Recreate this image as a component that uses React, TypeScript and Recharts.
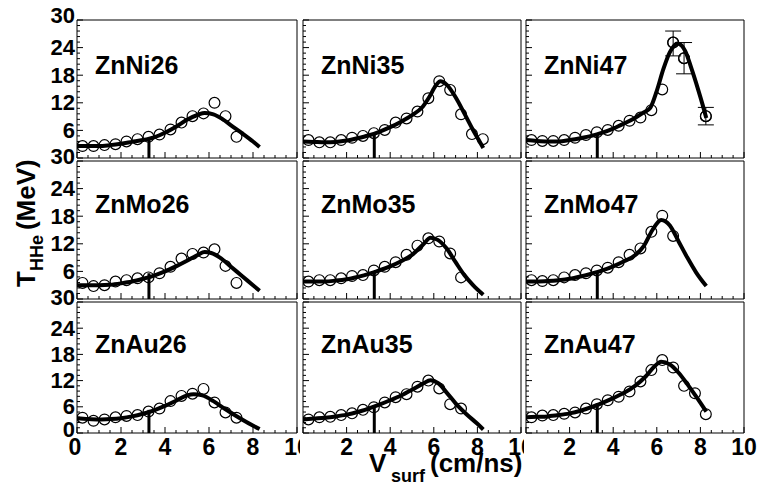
import React from "react";
import {
  ComposedChart,
  Line,
  Scatter,
  XAxis,
  YAxis,
  ReferenceLine,
  ErrorBar,
} from "recharts";

// measured points sit on a regular V_surf grid (cm/ns)
const vSurf = [0.25, 0.75, 1.25, 1.75, 2.25, 2.75, 3.25, 3.75, 4.25, 4.75, 5.25, 5.75, 6.25, 6.75, 7.25, 7.75, 8.25];
const vSurfNi47 = [0.25, 0.75, 1.25, 1.75, 2.25, 2.75, 3.25, 3.75, 4.25, 4.75, 5.25, 5.75, 6.25, 6.75, 7.25, 8.25];

const xTicks = [0, 0.5, 1, 1.5, 2, 2.5, 3, 3.5, 4, 4.5, 5, 5.5, 6, 6.5, 7, 7.5, 8, 8.5, 9, 9.5, 10];
const yTicks = [0, 1.2, 2.4, 3.6, 4.8, 6, 7.2, 8.4, 9.6, 10.8, 12, 13.2, 14.4, 15.6, 16.8, 18, 19.2, 20.4, 21.6, 22.8, 24, 25.2, 26.4, 27.6, 28.8, 30];

const panelNames = ["ZnNi26", "ZnNi35", "ZnNi47", "ZnMo26", "ZnMo35", "ZnMo47", "ZnAu26", "ZnAu35", "ZnAu47"];

// T_HHe points (MeV)
const ni26Pts = [2.6, 2.6, 2.8, 3.0, 3.6, 4.1, 4.6, 5.1, 6.2, 7.7, 9.1, 9.7, 12.0, 9.1, 4.6];
const ni35Pts = [3.9, 3.4, 3.4, 3.9, 4.4, 4.8, 5.4, 6.1, 7.7, 8.6, 10.1, 13.0, 16.7, 14.8, 9.5, 5.2, 4.1];
const ni47Pts = [3.9, 3.7, 3.7, 3.9, 4.4, 5.0, 5.6, 6.1, 7.0, 8.1, 8.8, 10.4, 14.9, 25.1, 21.7, 9.1];
const mo26Pts = [3.5, 2.8, 3.0, 3.8, 4.1, 4.5, 4.7, 5.6, 7.0, 8.8, 9.8, 10.1, 10.8, 7.2, 3.5];
const mo35Pts = [3.8, 4.1, 4.1, 4.5, 5.0, 5.2, 6.2, 7.0, 8.0, 9.6, 11.6, 13.2, 12.5, 9.9, 4.7];
const mo47Pts = [4.1, 3.9, 4.1, 4.7, 5.2, 5.6, 6.2, 6.8, 8.0, 9.6, 11.0, 14.6, 18.1, 13.7];
const au26Pts = [3.5, 2.8, 3.1, 3.6, 3.9, 4.1, 4.9, 5.6, 7.3, 8.5, 9.0, 10.1, 7.0, 4.7, 3.5];
const au35Pts = [3.1, 3.6, 3.7, 4.1, 4.5, 5.3, 5.9, 7.0, 8.2, 8.9, 10.6, 12.0, 10.2, 6.6, 5.6];
const au47Pts = [3.6, 4.0, 4.1, 4.4, 4.7, 5.6, 6.6, 7.5, 8.3, 9.5, 11.8, 14.4, 16.7, 15.0, 10.8, 9.1, 4.3];

// error bars for ZnNi47 (last three points), [down, up]
const ni47ErrX = [6.75, 7.25, 8.25];
const ni47ErrY = [25.1, 21.7, 9.1];
const ni47Err = [[2.9, 2.5], [3.4, 3.4], [1.9, 1.9]];

// fitted curves
const ni26CurveX = [0, 0.5, 1, 1.5, 2, 2.5, 3, 3.5, 4, 4.5, 5, 5.5, 5.8, 6.2, 6.6, 7, 7.5, 8, 8.3];
const ni26CurveY = [2.6, 2.6, 2.6, 2.8, 3.1, 3.5, 3.9, 4.5, 5.5, 6.8, 8.3, 9.4, 9.8, 9.5, 8.5, 7.1, 5.4, 3.6, 2.4];
const ni35CurveX = [0, 0.5, 1, 1.5, 2, 2.5, 3, 3.5, 4, 4.5, 5, 5.5, 5.8, 6.1, 6.3, 6.6, 7, 7.4, 7.8, 8.1, 8.27];
const ni35CurveY = [3.6, 3.5, 3.4, 3.5, 3.8, 4.3, 4.9, 5.7, 6.7, 7.9, 9.3, 11.2, 13.3, 15.8, 16.7, 15.9, 13.2, 9.7, 6.1, 3.6, 2.2];
const ni47CurveX = [0, 0.5, 1, 1.5, 2, 2.5, 3, 3.5, 4, 4.5, 5, 5.4, 5.7, 6, 6.3, 6.6, 6.95, 7.3, 7.6, 7.9, 8.1, 8.27];
const ni47CurveY = [3.9, 3.7, 3.6, 3.6, 3.9, 4.3, 4.8, 5.5, 6.4, 7.5, 8.7, 9.9, 10.9, 14.6, 19.3, 23.0, 24.9, 23.3, 19.3, 14.8, 11.6, 8.7];
const mo26CurveX = [0, 0.5, 1, 1.5, 2, 2.5, 3, 3.5, 4, 4.5, 5, 5.5, 5.8, 6.1, 6.5, 7, 7.5, 8, 8.3];
const mo26CurveY = [3.0, 3.0, 3.0, 3.1, 3.4, 3.8, 4.4, 5.1, 6.0, 7.1, 8.3, 9.6, 10.2, 10.0, 9.0, 7.0, 5.0, 3.0, 1.8];
const mo35CurveX = [0, 0.5, 1, 1.5, 2, 2.5, 3, 3.5, 4, 4.5, 5, 5.5, 5.85, 6.2, 6.6, 7, 7.4, 7.8, 8.27];
const mo35CurveY = [3.8, 3.8, 3.8, 4.0, 4.3, 4.8, 5.4, 6.2, 7.1, 8.2, 9.6, 11.8, 13.3, 12.8, 10.9, 8.0, 5.2, 3.0, 0.9];
const mo47CurveX = [0, 0.5, 1, 1.5, 2, 2.5, 3, 3.5, 4, 4.5, 5, 5.4, 5.8, 6.2, 6.6, 7, 7.4, 7.8, 8.27];
const mo47CurveY = [3.8, 3.8, 3.9, 4.1, 4.4, 4.9, 5.5, 6.2, 7.1, 8.2, 9.5, 11.5, 15.0, 17.2, 16.0, 12.5, 9.0, 5.8, 2.8];
const au26CurveX = [0, 0.5, 1, 1.5, 2, 2.5, 3, 3.5, 4, 4.5, 5, 5.3, 5.7, 6.2, 6.7, 7.2, 7.7, 8.3];
const au26CurveY = [3.4, 3.2, 3.1, 3.2, 3.4, 3.8, 4.4, 5.2, 6.2, 7.4, 8.6, 8.9, 8.6, 7.3, 5.6, 4.0, 2.5, 0.9];
const au35CurveX = [0, 0.5, 1, 1.5, 2, 2.5, 3, 3.5, 4, 4.5, 5, 5.5, 5.85, 6.2, 6.6, 7, 7.5, 8, 8.27];
const au35CurveY = [3.1, 3.3, 3.5, 3.8, 4.2, 4.8, 5.6, 6.5, 7.5, 8.6, 9.9, 11.3, 12.1, 11.4, 9.2, 6.8, 4.3, 2.1, 0.8];
const au47CurveX = [0, 0.5, 1, 1.5, 2, 2.5, 3, 3.5, 4, 4.5, 5, 5.5, 5.9, 6.2, 6.6, 7, 7.4, 7.8, 8.27];
const au47CurveY = [3.6, 3.7, 3.8, 4.1, 4.5, 5.1, 5.9, 6.9, 8.0, 9.2, 10.8, 13.0, 15.3, 16.3, 15.7, 13.8, 11.2, 8.4, 4.9];

// the thick marker at V_surf = 3.27, height up to the curve
const markerX = 3.27;
const markerTops = [4.0, 5.4, 5.0, 5.6, 5.9, 5.9, 5.3, 6.4, 6.8];

// layout in page pixels
const COL_LEFT = [77, 303, 526];
const COL_W = [220, 218, 218];
const COL_PAD_R = [3, 3, 16];
const Y_AXIS_W = [77, 2, 2];
const ROW_TOP = [20, 161, 302];
const ROW_H = [138, 138, 131];
const PAD_T = 20;
const FONT = "'Liberation Sans', Arial, Helvetica, sans-serif";

const zip = (xs: number[], ys: number[]) => ys.map((y, i) => ({ x: xs[i], y }));

const panels = [
  { pts: zip(vSurf, ni26Pts), curve: zip(ni26CurveX, ni26CurveY) },
  { pts: zip(vSurf, ni35Pts), curve: zip(ni35CurveX, ni35CurveY) },
  {
    pts: zip(vSurfNi47, ni47Pts),
    curve: zip(ni47CurveX, ni47CurveY),
    err: ni47ErrY.map((y, i) => ({ x: ni47ErrX[i], y, err: ni47Err[i] })),
  },
  { pts: zip(vSurf, mo26Pts), curve: zip(mo26CurveX, mo26CurveY) },
  { pts: zip(vSurf, mo35Pts), curve: zip(mo35CurveX, mo35CurveY) },
  { pts: zip(vSurf, mo47Pts), curve: zip(mo47CurveX, mo47CurveY) },
  { pts: zip(vSurf, au26Pts), curve: zip(au26CurveX, au26CurveY) },
  { pts: zip(vSurf, au35Pts), curve: zip(au35CurveX, au35CurveY) },
  { pts: zip(vSurf, au47Pts), curve: zip(au47CurveX, au47CurveY) },
];

const isMultiple = (v: number, step: number) => Math.abs(v / step - Math.round(v / step)) < 1e-6;

const OpenCircle = (props: any) => {
  if (props.cx == null || props.cy == null) return null;
  return <circle cx={props.cx} cy={props.cy} r={5.4} fill="none" stroke="#000" strokeWidth={1.2} />;
};

function Panel({ idx }: { idx: number }) {
  const col = idx % 3;
  const row = Math.floor(idx / 3);
  const p = panels[idx];
  const bottomRow = row === 2;
  const xAxisH = bottomRow ? 40 : 2;
  const plotL = Y_AXIS_W[col];
  const plotB = PAD_T + ROW_H[row];
  const width = Y_AXIS_W[col] + COL_W[col] + COL_PAD_R[col];
  const height = PAD_T + ROW_H[row] + xAxisH;

  const xTick = (props: any) => {
    const v = props.payload.value;
    const major = isMultiple(v, 2);
    const label = bottomRow && major && !(v === 0 && col > 0);
    return (
      <g>
        <line x1={props.x} x2={props.x} y1={plotB} y2={plotB - (major ? 6 : 3)} stroke="#000" strokeWidth={1} />
        {label && (
          <text x={props.x - (v === 0 ? 2 : 0)} y={plotB + 22} textAnchor="middle" fontSize={23} fontWeight="bold" fontFamily={FONT} fill="#000">
            {v}
          </text>
        )}
      </g>
    );
  };

  const yTick = (props: any) => {
    const v = props.payload.value;
    const major = isMultiple(v, 6);
    const label = col === 0 && major && !(v === 0 && row < 2);
    const shift = v === 30 ? -5 : v === 0 ? -4 : 0;
    return (
      <g>
        <line x1={plotL} x2={plotL + (major ? 6 : 3)} y1={props.y} y2={props.y} stroke="#000" strokeWidth={1} />
        {label && (
          <text x={plotL - 2} y={props.y + 7.5 + shift} textAnchor="end" fontSize={22} fontWeight="bold" fontFamily={FONT} fill="#000">
            {v}
          </text>
        )}
      </g>
    );
  };

  return (
    <div style={{ position: "absolute", left: COL_LEFT[col] - Y_AXIS_W[col], top: ROW_TOP[row] - PAD_T }}>
      <ComposedChart width={width} height={height} margin={{ top: PAD_T, right: COL_PAD_R[col], bottom: 0, left: 0 }}>
        <XAxis
          type="number"
          dataKey="x"
          domain={[0, 10]}
          ticks={xTicks}
          interval={0}
          tick={xTick}
          tickLine={false}
          axisLine={false}
          height={xAxisH}
          allowDataOverflow
        />
        <YAxis
          type="number"
          dataKey="y"
          domain={[0, 30]}
          ticks={yTicks}
          interval={0}
          tick={yTick}
          tickLine={false}
          axisLine={false}
          width={Y_AXIS_W[col]}
          allowDataOverflow
        />
        <ReferenceLine x={0} stroke="#000" strokeWidth={1} />
        <ReferenceLine x={10} stroke="#000" strokeWidth={1} />
        <ReferenceLine y={0} stroke="#000" strokeWidth={1} />
        <ReferenceLine y={30} stroke="#000" strokeWidth={1} />
        <ReferenceLine
          segment={[{ x: markerX, y: 0 }, { x: markerX, y: markerTops[idx] }]}
          stroke="#000"
          strokeWidth={3}
        />
        <Line
          data={p.curve}
          dataKey="y"
          type="monotone"
          stroke="#000"
          strokeWidth={4}
          dot={false}
          isAnimationActive={false}
        />
        <Scatter data={p.pts} dataKey="y" shape={OpenCircle} isAnimationActive={false} />
        {p.err && (
          <Scatter data={p.err} dataKey="y" shape={OpenCircle} isAnimationActive={false}>
            <ErrorBar dataKey="err" direction="y" width={8} stroke="#000" strokeWidth={1} />
          </Scatter>
        )}
      </ComposedChart>
    </div>
  );
}

export default function App() {
  return (
    <div style={{ position: "absolute", left: 0, top: 0, width: 761, height: 484, background: "#fff", overflow: "hidden" }}>
      {panels.map((_, i) => (
        <Panel key={i} idx={i} />
      ))}
      <svg width={761} height={484} style={{ position: "absolute", left: 0, top: 0, pointerEvents: "none" }}>
        {panelNames.map((name, i) => {
          const col = i % 3;
          const row = Math.floor(i / 3);
          return (
            <text
              key={name}
              x={COL_LEFT[col] + 18}
              y={ROW_TOP[row] + [54, 52, 51][row]}
              fontSize={25}
              fontWeight="bold"
              fontFamily={FONT}
              fill="#000"
            >
              {name}
            </text>
          );
        })}
        <text x={369} y={472} fontSize={26} fontWeight="bold" fontFamily={FONT} fill="#000">
          V
          <tspan x={391} y={482} fontSize={18}>surf</tspan>
          <tspan x={430} y={472}>(cm/ns)</tspan>
        </text>
        <text transform="translate(35,287) rotate(-90)" fontSize={26} fontWeight="bold" fontFamily={FONT} fill="#000">
          T
          <tspan dy={8} fontSize={18}>HHe</tspan>
          <tspan dy={-8} dx={5}>(MeV)</tspan>
        </text>
      </svg>
    </div>
  );
}
